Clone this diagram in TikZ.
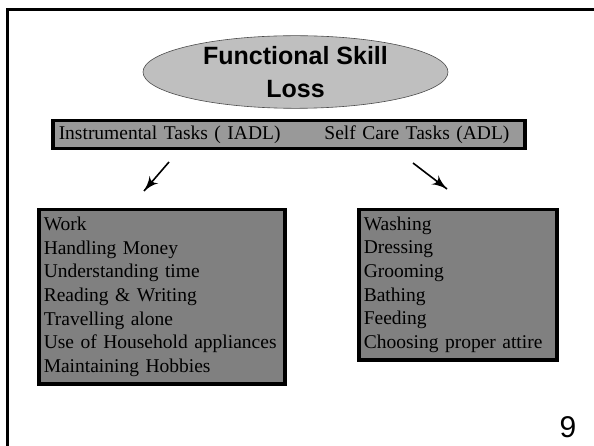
\documentclass[tikz,border=0pt]{standalone}
\usepackage{fontspec}
\setmainfont{Liberation Serif}
\setsansfont{Liberation Sans}
\usetikzlibrary{arrows}
\usetikzlibrary{decorations.markings}
\usetikzlibrary{shapes.geometric}
\definecolor{lossgrey}{gray}{0.75}
\definecolor{bargrey}{gray}{0.6}
\definecolor{boxgrey}{gray}{0.5}
\tikzset{->/.style = {line width=1.6pt,
                      decoration={markings,
                                  mark=at position 1 with {\arrow[scale=2]{latex'}}},
                      postaction={decorate}}}
\tikzset{taskbox/.style = {draw, line width=3.5pt, fill=boxgrey, anchor=north west,
                           align=left, inner xsep=5pt, inner ysep=0pt,
                           font=\fontsize{19.5}{23.7}\selectfont}}

\begin{document}
\begin{tikzpicture}[x=1pt, y=-1pt]
  \useasboundingbox (0, 0) rectangle (594, 446);
  \draw [line width=3pt] (7, 460) -- (7, 10) -- (610, 10);
  \node (loss) [ellipse, draw=black!70, line width=0.6pt, fill=lossgrey,
                minimum width=305pt, minimum height=66pt, inner sep=0pt,
                align=center, font=\sffamily\bfseries\fontsize{25}{33}\selectfont]
        at (295.5, 72) {Functional Skill\\Loss};
  \node (tasks) [draw, line width=3.5pt, fill=bargrey, anchor=north west,
                 minimum width=472pt, minimum height=28pt,
                 text width=460pt, inner xsep=6pt, inner ysep=2pt, align=left,
                 font=\fontsize{19.5}{24}\selectfont]
        at (51, 119) {Instrumental Tasks ( IADL)\hspace{44pt}Self Care Tasks (ADL)};
  \node (iadl) [taskbox, minimum width=245pt, minimum height=174pt, text width=236pt]
        at (37, 208) {Work\\Handling Money\\Understanding time\\Reading \& Writing\\
                      Travelling alone\\Use of Household appliances\\Maintaining Hobbies};
  \node (adl) [taskbox, minimum width=197pt, minimum height=150pt, text width=188pt]
        at (357, 208) {Washing\\Dressing\\Grooming\\Bathing\\Feeding\\Choosing proper attire};
  \coordinate (iadlfrom) at (169, 162);
  \coordinate (iadlto) at (144, 191);
  \coordinate (adlfrom) at (413, 163);
  \coordinate (adlto) at (447, 189);
  \draw [->] (iadlfrom) -- (iadlto);
  \draw [->] (adlfrom) -- (adlto);
  \node (page) [font=\sffamily\fontsize{30}{36}\selectfont] at (568, 427) {9};
\end{tikzpicture}
\end{document}
